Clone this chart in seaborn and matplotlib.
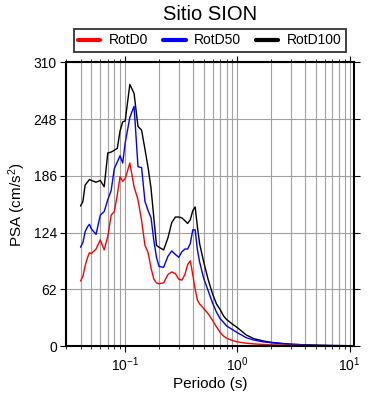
import matplotlib.pyplot as plt
import pandas as pd
import seaborn as sns
from matplotlib.ticker import LogLocator, NullFormatter

sns.set_style("ticks")
plt.rcParams["font.family"] = ["Liberation Sans", "DejaVu Sans"]
plt.rcParams["mathtext.fontset"] = "custom"
plt.rcParams["mathtext.rm"] = "Liberation Sans"
plt.rcParams["mathtext.it"] = "Liberation Sans:italic"
for key in ["text.color", "axes.labelcolor", "xtick.color", "ytick.color"]:
    plt.rcParams[key] = "black"

# --- data ---
periods = [0.04, 0.042, 0.044, 0.046, 0.048, 0.05, 0.055, 0.06, 0.065, 0.07,
           0.075, 0.08, 0.085, 0.09, 0.095, 0.1, 0.11, 0.12, 0.13, 0.14,
           0.15, 0.16, 0.17, 0.18, 0.19, 0.2, 0.22, 0.24, 0.26, 0.28,
           0.3, 0.32, 0.34, 0.36, 0.38, 0.4, 0.42, 0.44, 0.46, 0.5,
           0.55, 0.6, 0.65, 0.7, 0.75, 0.8, 0.9, 1.0, 1.2, 1.4,
           1.7, 2.0, 2.5, 3.0, 4.0, 5.0, 7.0, 10.0]

rotd0 = [71, 76, 88, 96, 102, 101, 106, 116, 105, 120,
         143, 147, 165, 185, 180, 183, 200, 174, 160, 137,
         110, 102, 85, 73, 69, 68, 69, 78, 81, 79,
         73, 72, 78, 89, 93, 78, 62, 50, 46, 41,
         35, 28, 21, 15, 11, 8.5, 6, 4.5, 3, 2.3,
         1.7, 1.3, 1.0, 0.8, 0.5, 0.4, 0.3, 0.2]

rotd50 = [108, 113, 125, 130, 133, 128, 122, 143, 147, 160,
          170, 194, 201, 208, 200, 222, 250, 262, 196, 195,
          158, 148, 140, 115, 97, 87, 86, 98, 104, 100,
          97, 103, 106, 106, 112, 127, 127, 105, 92, 74,
          60, 47, 37, 30, 26, 22, 18, 14.5, 9, 6.5,
          4.5, 3.5, 2.5, 1.8, 1.2, 0.8, 0.5, 0.3]

rotd100 = [153, 158, 176, 179, 182, 181, 179, 181, 174, 211,
           212, 214, 216, 235, 245, 246, 286, 276, 240, 236,
           215, 195, 172, 140, 110, 108, 105, 118, 135, 141,
           141, 140, 137, 134, 138, 148, 152, 130, 112, 92,
           72, 57, 46, 40, 33, 29, 24, 20, 12, 8,
           5.5, 4, 2.8, 2.0, 1.3, 0.9, 0.5, 0.3]

y_ticks = [0, 62, 124, 186, 248, 310]

df = pd.concat([
    pd.DataFrame({"Periodo": periods, "PSA": rotd0, "Comp": "RotD0"}),
    pd.DataFrame({"Periodo": periods, "PSA": rotd50, "Comp": "RotD50"}),
    pd.DataFrame({"Periodo": periods, "PSA": rotd100, "Comp": "RotD100"}),
])
palette = {"RotD0": "#ff0000", "RotD50": "#0000ff", "RotD100": "#000000"}

fig = plt.figure(figsize=(3.9, 4.0), dpi=100)
ax = fig.add_axes([0.1705, 0.135, 0.737, 0.709])

sns.lineplot(data=df, x="Periodo", y="PSA", hue="Comp", palette=palette,
             hue_order=["RotD100", "RotD50", "RotD0"], linewidth=1.0,
             ax=ax, legend=False)

ax.set_xscale("log")
ax.set_xlim(0.03, 10.9)
ax.set_ylim(0, 310)
ax.set_yticks(y_ticks)
ax.xaxis.set_minor_locator(LogLocator(base=10, subs=range(2, 10)))
ax.xaxis.set_minor_formatter(NullFormatter())

# grid: all decades + minor x lines, major y lines
ax.grid(True, which="major", axis="both", color="#a0a0a0", linewidth=0.8)
ax.grid(True, which="minor", axis="x", color="#a0a0a0", linewidth=0.8)
ax.set_axisbelow(True)

for sp in ax.spines.values():
    sp.set_linewidth(1.5)
    sp.set_color("black")

ax.tick_params(which="major", direction="out", length=4, width=0.8,
               labelsize=10, top=True, right=True, pad=3)
ax.tick_params(which="minor", direction="out", length=2.5, width=0.6,
               top=True, bottom=True)

ax.set_xlabel("Periodo (s)", fontsize=11, labelpad=2)
ax.set_ylabel("PSA (cm/s$^2$)", fontsize=11, labelpad=4)
fig.suptitle("Sitio SION", fontsize=14.5, x=0.538, y=0.988)

handles = [plt.Line2D([], [], color=palette[k], linewidth=3)
           for k in ["RotD0", "RotD50", "RotD100"]]
leg = fig.legend(handles, ["RotD0", "RotD50", "RotD100"], ncol=3,
                 loc="center", bbox_to_anchor=(0.538, 0.899),
                 fontsize=10, frameon=True, fancybox=False,
                 handlelength=1.6, handletextpad=0.6, columnspacing=1.1,
                 borderpad=0.3, borderaxespad=0)
leg.get_frame().set_edgecolor("black")
leg.get_frame().set_linewidth(1.3)

fig.savefig("out.png", dpi=100)
